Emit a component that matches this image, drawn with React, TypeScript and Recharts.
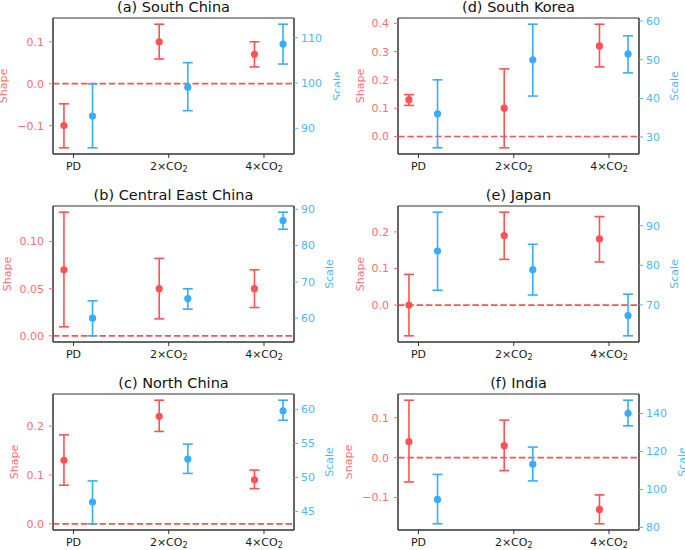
import React from 'react';
import { ComposedChart, Scatter, ErrorBar, XAxis, YAxis, ReferenceLine, ReferenceArea } from 'recharts';

// ---------- data ----------
const categories = ['PD', '2×CO₂', '4×CO₂'];
const catX = [0, 1, 2];
const shapeOffset = -0.1;
const scaleOffset = 0.2;

// (a) South China
const aShape = [-0.1, 0.1, 0.07];
const aShapeLo = [-0.153, 0.059, 0.04];
const aShapeHi = [-0.048, 0.142, 0.1];
const aScale = [92.7, 99.1, 108.6];
const aScaleLo = [85.7, 93.9, 104.2];
const aScaleHi = [99.8, 104.5, 113.0];
const aShapeTicks = [-0.1, 0, 0.1];
const aScaleTicks = [90, 100, 110];

// (b) Central East China
const bShape = [0.07, 0.05, 0.05];
const bShapeLo = [0.0095, 0.018, 0.03];
const bShapeHi = [0.131, 0.082, 0.07];
const bScale = [60.0, 65.4, 86.9];
const bScaleLo = [55.15, 62.5, 84.5];
const bScaleHi = [64.8, 68.1, 89.2];
const bShapeTicks = [0, 0.05, 0.1];
const bScaleTicks = [60, 70, 80, 90];

// (c) North China
const cShape = [0.13, 0.22, 0.09];
const cShapeLo = [0.079, 0.189, 0.072];
const cShapeHi = [0.182, 0.253, 0.11];
const cScale = [46.4, 52.7, 59.8];
const cScaleLo = [43.2, 50.6, 58.4];
const cScaleHi = [49.5, 54.9, 61.35];
const cShapeTicks = [0, 0.1, 0.2];
const cScaleTicks = [45, 50, 55, 60];

// (d) South Korea
const dShape = [0.13, 0.1, 0.32];
const dShapeLo = [0.11, -0.04, 0.246];
const dShapeHi = [0.148, 0.239, 0.397];
const dScale = [36.0, 50.0, 51.5];
const dScaleLo = [27.2, 40.6, 46.6];
const dScaleHi = [44.8, 59.2, 56.2];
const dShapeTicks = [0, 0.1, 0.2, 0.3, 0.4];
const dScaleTicks = [30, 40, 50, 60];

// (e) Japan
const eShape = [0.0, 0.19, 0.181];
const eShapeLo = [-0.084, 0.125, 0.118];
const eShapeHi = [0.084, 0.254, 0.242];
const eScale = [83.6, 78.9, 67.3];
const eScaleLo = [73.7, 72.5, 62.2];
const eScaleHi = [93.4, 85.3, 72.7];
const eShapeTicks = [0, 0.1, 0.2];
const eScaleTicks = [70, 80, 90];

// (f) India
const fShape = [0.04, 0.03, -0.13];
const fShapeLo = [-0.061, -0.0325, -0.166];
const fShapeHi = [0.144, 0.094, -0.0935];
const fScale = [94.75, 113.3, 140.1];
const fScaleLo = [81.9, 104.5, 133.5];
const fScaleHi = [107.9, 122.3, 147.0];
const fShapeTicks = [-0.1, 0, 0.1];
const fScaleTicks = [80, 100, 120, 140];

// ---------- style ----------
const FONT = '"DejaVu Sans", sans-serif';
const RED = '#ff5252';
const RED_T = '#ff6e6e';
const BLUE = '#38acff';
const BLUE_T = '#4cb6ff';
const FRAME = '#333333';
const LW = 53;
const RW = 46;
const PW = 241;
const PH = 136;
const BH = 30;
const TOPM = 5;
const XDOM: [number, number] = [-0.215, 2.315];

type PanelDef = {
  title: string;
  px: number;
  py: number;
  shape: number[]; shapeLo: number[]; shapeHi: number[];
  scale: number[]; scaleLo: number[]; scaleHi: number[];
  shapeTicks: number[]; scaleTicks: number[];
  shapeDec: number;
  shapeLabelX: number; scaleLabelX: number;
};

const panels: PanelDef[] = [
  { title: '(a) South China', px: 53, py: 18, shape: aShape, shapeLo: aShapeLo, shapeHi: aShapeHi, scale: aScale, scaleLo: aScaleLo, scaleHi: aScaleHi, shapeTicks: aShapeTicks, scaleTicks: aScaleTicks, shapeDec: 1, shapeLabelX: 6.8, scaleLabelX: 341 },
  { title: '(b) Central East China', px: 53, py: 206, shape: bShape, shapeLo: bShapeLo, shapeHi: bShapeHi, scale: bScale, scaleLo: bScaleLo, scaleHi: bScaleHi, shapeTicks: bShapeTicks, scaleTicks: bScaleTicks, shapeDec: 2, shapeLabelX: 10.8, scaleLabelX: 333.3 },
  { title: '(c) North China', px: 53, py: 394, shape: cShape, shapeLo: cShapeLo, shapeHi: cShapeHi, scale: cScale, scaleLo: cScaleLo, scaleHi: cScaleHi, shapeTicks: cShapeTicks, scaleTicks: cScaleTicks, shapeDec: 1, shapeLabelX: 17.5, scaleLabelX: 333.3 },
  { title: '(d) South Korea', px: 398, py: 18, shape: dShape, shapeLo: dShapeLo, shapeHi: dShapeHi, scale: dScale, scaleLo: dScaleLo, scaleHi: dScaleHi, shapeTicks: dShapeTicks, scaleTicks: dScaleTicks, shapeDec: 1, shapeLabelX: 363.5, scaleLabelX: 678 },
  { title: '(e) Japan', px: 398, py: 206, shape: eShape, shapeLo: eShapeLo, shapeHi: eShapeHi, scale: eScale, scaleLo: eScaleLo, scaleHi: eScaleHi, shapeTicks: eShapeTicks, scaleTicks: eScaleTicks, shapeDec: 1, shapeLabelX: 363.5, scaleLabelX: 678 },
  { title: '(f) India', px: 398, py: 394, shape: fShape, shapeLo: fShapeLo, shapeHi: fShapeHi, scale: fScale, scaleLo: fScaleLo, scaleHi: fScaleHi, shapeTicks: fShapeTicks, scaleTicks: fScaleTicks, shapeDec: 1, shapeLabelX: 352.4, scaleLabelX: 686 },
];

function padDomain(lo: number, hi: number): [number, number] {
  const m = (hi - lo) * 0.05;
  return [lo - m, hi + m];
}

function fmt(v: number, dec: number) {
  const s = Math.abs(v).toFixed(dec);
  return v < -1e-12 ? '\u2212' + s : s;
}

function buildRows(vals: number[], lo: number[], hi: number[], off: number) {
  return vals.map((v, i) => ({ x: catX[i] + off, y: v, err: [v - lo[i], hi[i] - v] }));
}

const CatTick = (props: any) => {
  const { x, y, payload } = props;
  const idx = catX.indexOf(payload.value);
  const lab = categories[idx] ?? '';
  const parts = lab.split('₂');
  return (
    <text x={x} y={y + 10} textAnchor="middle" fill="#1a1a1a" fontSize={11} fontFamily={FONT}>
      <tspan>{parts[0]}</tspan>
      {parts.length > 1 ? <tspan dy={2} fontSize={8}>2</tspan> : null}
    </text>
  );
};

const dot = (color: string) => (p: any) => <circle cx={p.cx} cy={p.cy} r={3.6} fill={color} />;

function PanelChart({ p, ox }: { p: PanelDef; ox: number }) {
  const leftDom = padDomain(Math.min(0, ...p.shapeLo), Math.max(0, ...p.shapeHi));
  const rightDom = padDomain(Math.min(...p.scaleLo), Math.max(...p.scaleHi));
  const shapeRows = buildRows(p.shape, p.shapeLo, p.shapeHi, shapeOffset);
  const scaleRows = buildRows(p.scale, p.scaleLo, p.scaleHi, scaleOffset);
  const W = LW + PW + RW;
  const H = TOPM + PH + BH;
  return (
    <div style={{ position: 'absolute', left: p.px - LW - ox, top: p.py - TOPM, width: W, height: H }}>
      <ComposedChart width={W} height={H} margin={{ top: TOPM, right: 0, bottom: 0, left: 0 }}>
        <XAxis xAxisId="x" type="number" dataKey="x" domain={XDOM} allowDataOverflow ticks={catX} interval={0}
          tick={<CatTick />} tickLine={{ stroke: FRAME }} axisLine={{ stroke: FRAME }} height={BH} tickSize={4} tickMargin={2} />
        <YAxis yAxisId="left" type="number" domain={leftDom} allowDataOverflow ticks={p.shapeTicks} interval={0}
          width={LW} tickFormatter={(v: number) => fmt(v, p.shapeDec)}
          tick={{ fill: RED_T, fontSize: 11, fontFamily: FONT }} tickLine={{ stroke: RED_T }} axisLine={{ stroke: FRAME }}
          tickSize={4} tickMargin={5} />
        <YAxis yAxisId="right" orientation="right" type="number" domain={rightDom} allowDataOverflow ticks={p.scaleTicks} interval={0}
          width={RW} tickFormatter={(v: number) => String(v)}
          tick={{ fill: BLUE_T, fontSize: 11, fontFamily: FONT }} tickLine={{ stroke: BLUE_T }} axisLine={{ stroke: FRAME }}
          tickSize={4} tickMargin={3} />
        <ReferenceArea xAxisId="x" yAxisId="left" x1={XDOM[0]} x2={XDOM[1]} y1={leftDom[0]} y2={leftDom[1]}
          fill="none" fillOpacity={0} stroke={FRAME} strokeWidth={1} ifOverflow="visible" />
        <ReferenceLine xAxisId="x" yAxisId="left" y={0} stroke={RED} strokeDasharray="6.5 2.8" strokeWidth={1.7} />
        <Scatter xAxisId="x" yAxisId="left" data={shapeRows} dataKey="y" isAnimationActive={false} shape={dot(RED)}>
          <ErrorBar dataKey="err" direction="y" width={5} stroke={RED} strokeWidth={1.6} />
        </Scatter>
        <Scatter xAxisId="x" yAxisId="right" data={scaleRows} dataKey="y" isAnimationActive={false} shape={dot(BLUE)}>
          <ErrorBar dataKey="err" direction="y" width={5} stroke={BLUE} strokeWidth={1.6} />
        </Scatter>
      </ComposedChart>
    </div>
  );
}

function PanelText({ p, ox }: { p: PanelDef; ox: number }) {
  const cy = p.py + PH / 2;
  const sx = p.shapeLabelX - ox;
  const rx = p.scaleLabelX - ox;
  return (
    <g>
      <text x={p.px + PW / 2 - ox} y={p.py - 6.5} textAnchor="middle" fontSize={14.5} fontFamily={FONT} fill="#111">{p.title}</text>
      <text x={sx} y={cy} transform={`rotate(-90 ${sx} ${cy})`} textAnchor="middle" fontSize={11} fontFamily={FONT} fill={RED_T}>Shape</text>
      <text x={rx} y={cy} transform={`rotate(-90 ${rx} ${cy})`} textAnchor="middle" fontSize={11} fontFamily={FONT} fill={BLUE_T}>Scale</text>
    </g>
  );
}

function Column({ list, ox, width }: { list: PanelDef[]; ox: number; width: number }) {
  return (
    <div style={{ position: 'absolute', left: ox, top: 0, width, height: 550, overflow: 'hidden' }}>
      {list.map((p) => <PanelChart key={p.title} p={p} ox={ox} />)}
      <svg width={width} height={550} style={{ position: 'absolute', left: 0, top: 0, pointerEvents: 'none' }}>
        {list.map((p) => <PanelText key={p.title} p={p} ox={ox} />)}
      </svg>
    </div>
  );
}

export default function App() {
  return (
    <div style={{ position: 'absolute', left: 0, top: 0, width: 685, height: 550, background: '#fff', overflow: 'hidden' }}>
      <Column list={panels.slice(0, 3)} ox={0} width={340} />
      <Column list={panels.slice(3, 6)} ox={346} width={339} />
    </div>
  );
}
